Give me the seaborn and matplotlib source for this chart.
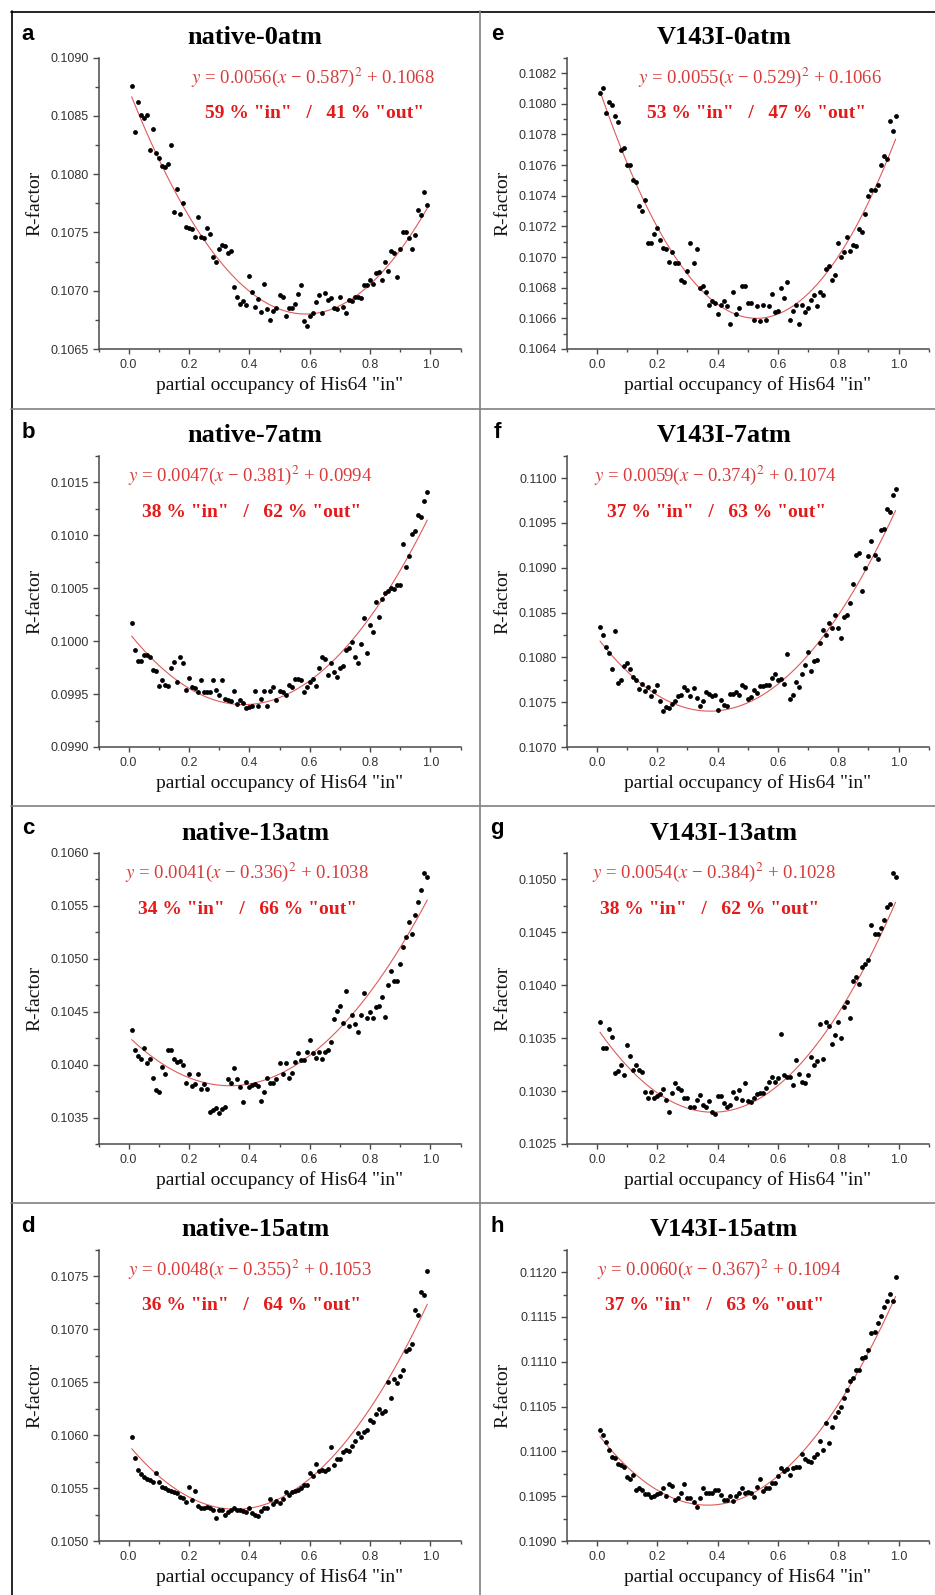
import numpy as np
import pandas as pd
import matplotlib
matplotlib.use("Agg")
import matplotlib.pyplot as plt
from matplotlib.lines import Line2D
from matplotlib.ticker import MultipleLocator, FormatStrFormatter
import seaborn as sns

sns.set_theme(style="ticks")
plt.rcParams['font.family'] = ['Liberation Sans', 'DejaVu Sans']
plt.rcParams['mathtext.fontset'] = 'stix'

# partial occupancy grid of His64 "in"
occupancy = [
    0.01, 0.02, 0.03, 0.04, 0.05, 0.06, 0.07, 0.08, 0.09, 0.10,
    0.11, 0.12, 0.13, 0.14, 0.15, 0.16, 0.17, 0.18, 0.19, 0.20,
    0.21, 0.22, 0.23, 0.24, 0.25, 0.26, 0.27, 0.28, 0.29, 0.30,
    0.31, 0.32, 0.33, 0.34, 0.35, 0.36, 0.37, 0.38, 0.39, 0.40,
    0.41, 0.42, 0.43, 0.44, 0.45, 0.46, 0.47, 0.48, 0.49, 0.50,
    0.51, 0.52, 0.53, 0.54, 0.55, 0.56, 0.57, 0.58, 0.59, 0.60,
    0.61, 0.62, 0.63, 0.64, 0.65, 0.66, 0.67, 0.68, 0.69, 0.70,
    0.71, 0.72, 0.73, 0.74, 0.75, 0.76, 0.77, 0.78, 0.79, 0.80,
    0.81, 0.82, 0.83, 0.84, 0.85, 0.86, 0.87, 0.88, 0.89, 0.90,
    0.91, 0.92, 0.93, 0.94, 0.95, 0.96, 0.97, 0.98, 0.99]

r_native_0 = [
    0.10876, 0.10836, 0.10862, 0.10851, 0.10848, 0.10851, 0.10821, 0.10839, 0.10818, 0.10814,
    0.10807, 0.10806, 0.10809, 0.10825, 0.10768, 0.10787, 0.10766, 0.10775, 0.10755, 0.10754,
    0.10753, 0.10746, 0.10763, 0.10746, 0.10745, 0.10754, 0.10749, 0.10729, 0.10725, 0.10736,
    0.10739, 0.10738, 0.10732, 0.10734, 0.10703, 0.10695, 0.10689, 0.10691, 0.10688, 0.10713,
    0.10699, 0.10686, 0.10693, 0.10682, 0.10706, 0.10684, 0.10675, 0.10683, 0.10685, 0.10696,
    0.10695, 0.10678, 0.10685, 0.10685, 0.10689, 0.10697, 0.10705, 0.10674, 0.10670, 0.10678,
    0.10681, 0.10690, 0.10696, 0.10681, 0.10698, 0.10692, 0.10694, 0.10685, 0.10684, 0.10695,
    0.10686, 0.10681, 0.10692, 0.10691, 0.10695, 0.10695, 0.10694, 0.10705, 0.10705, 0.10709,
    0.10706, 0.10715, 0.10716, 0.10709, 0.10725, 0.10717, 0.10734, 0.10732, 0.10712, 0.10736,
    0.10750, 0.10750, 0.10745, 0.10736, 0.10748, 0.10769, 0.10765, 0.10785, 0.10774]

r_native_7 = [
    0.10017, 0.09992, 0.09981, 0.09981, 0.09987, 0.09987, 0.09985, 0.09973, 0.09972, 0.09958,
    0.09963, 0.09959, 0.09958, 0.09975, 0.09980, 0.09961, 0.09985, 0.09979, 0.09954, 0.09965,
    0.09957, 0.09956, 0.09952, 0.09963, 0.09952, 0.09952, 0.09952, 0.09963, 0.09954, 0.09949,
    0.09963, 0.09945, 0.09944, 0.09943, 0.09953, 0.09941, 0.09944, 0.09942, 0.09937, 0.09938,
    0.09939, 0.09953, 0.09939, 0.09945, 0.09953, 0.09939, 0.09953, 0.09957, 0.09944, 0.09953,
    0.09952, 0.09949, 0.09959, 0.09957, 0.09964, 0.09964, 0.09963, 0.09952, 0.09957, 0.09961,
    0.09964, 0.09958, 0.09975, 0.09985, 0.09983, 0.09968, 0.09979, 0.09971, 0.09966, 0.09975,
    0.09976, 0.09992, 0.09993, 0.09999, 0.09985, 0.09979, 0.09997, 0.10022, 0.09989, 0.10015,
    0.10009, 0.10037, 0.10023, 0.10040, 0.10045, 0.10047, 0.10050, 0.10049, 0.10053, 0.10053,
    0.10092, 0.10070, 0.10080, 0.10101, 0.10104, 0.10119, 0.10117, 0.10132, 0.10141]

r_native_13 = [
    0.10433, 0.10414, 0.10408, 0.10405, 0.10416, 0.10401, 0.10405, 0.10387, 0.10376, 0.10374,
    0.10398, 0.10391, 0.10414, 0.10414, 0.10405, 0.10402, 0.10403, 0.10400, 0.10383, 0.10391,
    0.10380, 0.10382, 0.10391, 0.10377, 0.10382, 0.10377, 0.10355, 0.10357, 0.10359, 0.10354,
    0.10358, 0.10360, 0.10386, 0.10383, 0.10397, 0.10386, 0.10379, 0.10365, 0.10384, 0.10379,
    0.10381, 0.10382, 0.10380, 0.10366, 0.10374, 0.10387, 0.10383, 0.10383, 0.10386, 0.10401,
    0.10391, 0.10401, 0.10387, 0.10392, 0.10402, 0.10411, 0.10404, 0.10404, 0.10412, 0.10423,
    0.10411, 0.10406, 0.10412, 0.10405, 0.10412, 0.10414, 0.10421, 0.10443, 0.10451, 0.10455,
    0.10439, 0.10469, 0.10436, 0.10447, 0.10438, 0.10431, 0.10447, 0.10468, 0.10444, 0.10450,
    0.10444, 0.10454, 0.10455, 0.10464, 0.10445, 0.10475, 0.10488, 0.10479, 0.10479, 0.10495,
    0.10511, 0.10520, 0.10535, 0.10523, 0.10541, 0.10553, 0.10565, 0.10581, 0.10577]

r_native_15 = [
    0.10598, 0.10578, 0.10567, 0.10563, 0.10560, 0.10559, 0.10558, 0.10556, 0.10564, 0.10556,
    0.10551, 0.10550, 0.10548, 0.10547, 0.10546, 0.10545, 0.10542, 0.10541, 0.10537, 0.10551,
    0.10539, 0.10547, 0.10533, 0.10531, 0.10531, 0.10532, 0.10531, 0.10529, 0.10522, 0.10529,
    0.10529, 0.10525, 0.10527, 0.10529, 0.10531, 0.10529, 0.10529, 0.10528, 0.10527, 0.10531,
    0.10526, 0.10525, 0.10524, 0.10528, 0.10531, 0.10531, 0.10540, 0.10535, 0.10538, 0.10536,
    0.10540, 0.10546, 0.10543, 0.10546, 0.10547, 0.10548, 0.10550, 0.10553, 0.10553, 0.10564,
    0.10561, 0.10573, 0.10566, 0.10567, 0.10566, 0.10568, 0.10589, 0.10572, 0.10577, 0.10577,
    0.10584, 0.10586, 0.10585, 0.10590, 0.10594, 0.10602, 0.10598, 0.10603, 0.10605, 0.10614,
    0.10612, 0.10620, 0.10625, 0.10621, 0.10623, 0.10650, 0.10635, 0.10653, 0.10649, 0.10656,
    0.10661, 0.10679, 0.10681, 0.10686, 0.10718, 0.10713, 0.10735, 0.10732, 0.10755]

r_v143i_0 = [
    0.10807, 0.10810, 0.10794, 0.10801, 0.10799, 0.10792, 0.10788, 0.10770, 0.10771, 0.10760,
    0.10760, 0.10750, 0.10749, 0.10733, 0.10730, 0.10737, 0.10709, 0.10709, 0.10715, 0.10719,
    0.10711, 0.10706, 0.10705, 0.10697, 0.10703, 0.10696, 0.10696, 0.10685, 0.10684, 0.10691,
    0.10709, 0.10696, 0.10705, 0.10680, 0.10681, 0.10677, 0.10669, 0.10671, 0.10670, 0.10663,
    0.10669, 0.10671, 0.10668, 0.10656, 0.10677, 0.10663, 0.10667, 0.10681, 0.10681, 0.10670,
    0.10670, 0.10659, 0.10668, 0.10658, 0.10669, 0.10659, 0.10668, 0.10676, 0.10664, 0.10665,
    0.10680, 0.10673, 0.10684, 0.10659, 0.10665, 0.10669, 0.10656, 0.10669, 0.10664, 0.10667,
    0.10672, 0.10675, 0.10668, 0.10677, 0.10675, 0.10692, 0.10694, 0.10685, 0.10688, 0.10709,
    0.10700, 0.10703, 0.10713, 0.10704, 0.10708, 0.10707, 0.10718, 0.10716, 0.10728, 0.10740,
    0.10744, 0.10744, 0.10747, 0.10760, 0.10766, 0.10764, 0.10789, 0.10782, 0.10792]

r_v143i_7 = [
    0.10834, 0.10825, 0.10812, 0.10805, 0.10787, 0.10829, 0.10771, 0.10775, 0.10790, 0.10794,
    0.10787, 0.10778, 0.10775, 0.10765, 0.10770, 0.10763, 0.10767, 0.10757, 0.10762, 0.10769,
    0.10751, 0.10740, 0.10745, 0.10743, 0.10748, 0.10751, 0.10757, 0.10758, 0.10767, 0.10764,
    0.10757, 0.10766, 0.10755, 0.10746, 0.10751, 0.10761, 0.10759, 0.10757, 0.10758, 0.10741,
    0.10752, 0.10747, 0.10746, 0.10759, 0.10759, 0.10761, 0.10758, 0.10769, 0.10767, 0.10754,
    0.10756, 0.10764, 0.10760, 0.10768, 0.10768, 0.10769, 0.10769, 0.10777, 0.10782, 0.10775,
    0.10776, 0.10770, 0.10804, 0.10753, 0.10758, 0.10772, 0.10767, 0.10781, 0.10792, 0.10806,
    0.10785, 0.10796, 0.10797, 0.10816, 0.10831, 0.10825, 0.10838, 0.10833, 0.10847, 0.10833,
    0.10822, 0.10845, 0.10847, 0.10861, 0.10882, 0.10914, 0.10917, 0.10874, 0.10900, 0.10913,
    0.10930, 0.10914, 0.10910, 0.10942, 0.10943, 0.10965, 0.10962, 0.10981, 0.10988]

r_v143i_13 = [
    0.10365, 0.10341, 0.10341, 0.10359, 0.10351, 0.10317, 0.10319, 0.10325, 0.10315, 0.10343,
    0.10333, 0.10320, 0.10325, 0.10320, 0.10318, 0.10299, 0.10293, 0.10299, 0.10293, 0.10295,
    0.10297, 0.10302, 0.10292, 0.10280, 0.10298, 0.10308, 0.10303, 0.10301, 0.10293, 0.10293,
    0.10285, 0.10285, 0.10292, 0.10296, 0.10287, 0.10285, 0.10291, 0.10280, 0.10278, 0.10295,
    0.10295, 0.10289, 0.10285, 0.10287, 0.10299, 0.10293, 0.10301, 0.10292, 0.10308, 0.10291,
    0.10290, 0.10293, 0.10297, 0.10298, 0.10298, 0.10303, 0.10309, 0.10313, 0.10309, 0.10312,
    0.10354, 0.10315, 0.10313, 0.10313, 0.10306, 0.10329, 0.10316, 0.10309, 0.10308, 0.10315,
    0.10332, 0.10325, 0.10328, 0.10363, 0.10330, 0.10365, 0.10361, 0.10344, 0.10353, 0.10365,
    0.10350, 0.10379, 0.10384, 0.10369, 0.10404, 0.10408, 0.10401, 0.10417, 0.10420, 0.10424,
    0.10457, 0.10448, 0.10448, 0.10454, 0.10461, 0.10474, 0.10477, 0.10506, 0.10502]

r_v143i_15 = [
    0.11024, 0.11018, 0.11010, 0.11002, 0.10994, 0.10993, 0.10986, 0.10985, 0.10983, 0.10971,
    0.10969, 0.10974, 0.10957, 0.10959, 0.10957, 0.10952, 0.10952, 0.10949, 0.10950, 0.10952,
    0.10954, 0.10959, 0.10950, 0.10964, 0.10961, 0.10946, 0.10948, 0.10954, 0.10964, 0.10948,
    0.10948, 0.10944, 0.10938, 0.10948, 0.10959, 0.10953, 0.10953, 0.10953, 0.10957, 0.10957,
    0.10951, 0.10946, 0.10946, 0.10950, 0.10945, 0.10950, 0.10953, 0.10959, 0.10954, 0.10955,
    0.10953, 0.10949, 0.10960, 0.10969, 0.10956, 0.10959, 0.10959, 0.10965, 0.10965, 0.10973,
    0.10981, 0.10978, 0.10980, 0.10974, 0.10981, 0.10983, 0.10983, 0.10997, 0.10991, 0.10989,
    0.10988, 0.10994, 0.10997, 0.11012, 0.11002, 0.11032, 0.11009, 0.11027, 0.11038, 0.11044,
    0.11049, 0.11059, 0.11068, 0.11079, 0.11082, 0.11091, 0.11091, 0.11104, 0.11105, 0.11113,
    0.11132, 0.11133, 0.11143, 0.11151, 0.11161, 0.11168, 0.11176, 0.11168, 0.11194]

# panels in order a, b, c, d (left column), e, f, g, h (right column)
letters = ['a', 'b', 'c', 'd', 'e', 'f', 'g', 'h']
titles = ['native-0atm', 'native-7atm', 'native-13atm', 'native-15atm',
          'V143I-0atm', 'V143I-7atm', 'V143I-13atm', 'V143I-15atm']
rfactors = [r_native_0, r_native_7, r_native_13, r_native_15,
            r_v143i_0, r_v143i_7, r_v143i_13, r_v143i_15]
# fitted parabola y = a (x - h)^2 + k, as printed in each panel
fit_a = ['0.0056', '0.0047', '0.0041', '0.0048', '0.0055', '0.0059', '0.0054', '0.0060']
fit_h = ['0.587', '0.381', '0.336', '0.355', '0.529', '0.374', '0.384', '0.367']
fit_k = ['0.1068', '0.0994', '0.1038', '0.1053', '0.1066', '0.1074', '0.1028', '0.1094']
pct_in = [59, 38, 34, 36, 53, 37, 38, 37]
pct_out = [41, 62, 66, 64, 47, 63, 62, 63]
y_low = [0.1065, 0.0990, 0.10325, 0.1050, 0.1064, 0.1070, 0.1025, 0.1090]
y_high = [0.1090, 0.10175, 0.1060, 0.10775, 0.1083, 0.11025, 0.10525, 0.11225]
y_major = [0.0005, 0.0005, 0.0005, 0.0005, 0.0002, 0.0005, 0.0005, 0.0005]

# layout in pixels
W, H = 935, 1595
col_x0 = [11, 480]
row_y0 = [11, 409, 806, 1203]
axis_left = [98.5, 566.8]
axis_w, axis_h, axis_top = 362, 291.3, 46.7
eq_dx = [302, 239, 236, 239, 280, 235, 234, 239]
pct_dx = [304, 241, 237, 241, 277, 237, 230, 235]

serif = ['Liberation Serif', 'DejaVu Serif']
spine_col = '#4a4a4a'
eq_col = '#d63c3c'
pct_col = '#e31a1a'

fig = plt.figure(figsize=(W / 100, H / 100), dpi=100)
fig.patch.set_facecolor('white')


def fxy(px, py):
    return px / W, 1 - py / H


for i in range(8):
    col, row = i // 4, i % 4
    x0, y0 = col_x0[col], row_y0[row]
    left, bottom = fxy(axis_left[col], y0 + axis_top + axis_h)
    ax = fig.add_axes([left, bottom, axis_w / W, axis_h / H])

    df = pd.DataFrame({'occ': occupancy, 'R': rfactors[i]})
    sns.scatterplot(data=df, x='occ', y='R', ax=ax, color='black', s=12,
                    linewidth=0, zorder=3)

    a, h, k = float(fit_a[i]), float(fit_h[i]), float(fit_k[i])
    xs = np.linspace(occupancy[0], occupancy[-1], 200)
    sns.lineplot(x=xs, y=a * (xs - h) ** 2 + k, ax=ax, color='#e05a5a',
                 linewidth=0.8, zorder=2)

    ax.set_xlim(-0.1, 1.1)
    ax.set_ylim(y_low[i], y_high[i])
    ax.xaxis.set_major_locator(MultipleLocator(0.2))
    ax.xaxis.set_minor_locator(MultipleLocator(0.1))
    ax.xaxis.set_major_formatter(FormatStrFormatter('%.1f'))
    ax.yaxis.set_major_locator(MultipleLocator(y_major[i]))
    ax.yaxis.set_minor_locator(MultipleLocator(y_major[i] / 2))
    ax.yaxis.set_major_formatter(FormatStrFormatter('%.4f'))

    for s in ['top', 'right']:
        ax.spines[s].set_visible(False)
    for s in ['left', 'bottom']:
        ax.spines[s].set_color(spine_col)
        ax.spines[s].set_linewidth(1.1)
    ax.tick_params(axis='both', which='both', direction='out', color=spine_col,
                   width=1.0, labelsize=9, labelcolor='#333333')
    ax.tick_params(axis='y', which='major', length=4.5, pad=2.5)
    ax.tick_params(axis='y', which='minor', length=3)
    ax.tick_params(axis='x', which='major', length=3.5, pad=3.5)
    ax.tick_params(axis='x', which='minor', length=2.5)
    ax.set_facecolor('white')
    ax.grid(False)

    ax.set_xlabel('partial occupancy of His64 "in"', family=serif, fontsize=14,
                  labelpad=4, color='#111111')
    ax.set_ylabel('R-factor', family=serif, fontsize=14, labelpad=5,
                  color='#111111')

    fig.text(*fxy(x0 + 17, y0 + 23), letters[i], fontsize=16, fontweight='bold',
             ha='center', va='center', color='black')
    fig.text(*fxy(x0 + 244, y0 + 27), titles[i], family=serif, fontsize=19,
             fontweight='bold', ha='center', va='center', color='black')
    eq = ('$y$ = ' + fit_a[i] + '($x$ \u2212 ' + fit_h[i] + ')$^2$ + ' + fit_k[i])
    fig.text(*fxy(x0 + eq_dx[i], y0 + 66), eq, family=serif, fontsize=13.5,
             ha='center', va='center', color=eq_col)
    pct = f'{pct_in[i]} % "in"   /   {pct_out[i]} % "out"'
    fig.text(*fxy(x0 + pct_dx[i], y0 + 103), pct, family=serif, fontsize=14,
             fontweight='bold', ha='center', va='center', color=pct_col)

# panel frame: black outer edges, gray dividers
frame = [((11, 935), (11.5, 11.5), 'black'),
         ((11.5, 11.5), (11, 1595), 'black'),
         ((479.5, 479.5), (11, 1595), '#808080'),
         ((11, 935), (409, 409), '#808080'),
         ((11, 935), (806, 806), '#808080'),
         ((11, 935), (1203, 1203), '#808080')]
for xs_px, ys_px, c in frame:
    fig.add_artist(Line2D([p / W for p in xs_px], [1 - p / H for p in ys_px],
                          color=c, linewidth=1.2, transform=fig.transFigure))

fig.savefig('out.png', dpi=100, facecolor='white')
